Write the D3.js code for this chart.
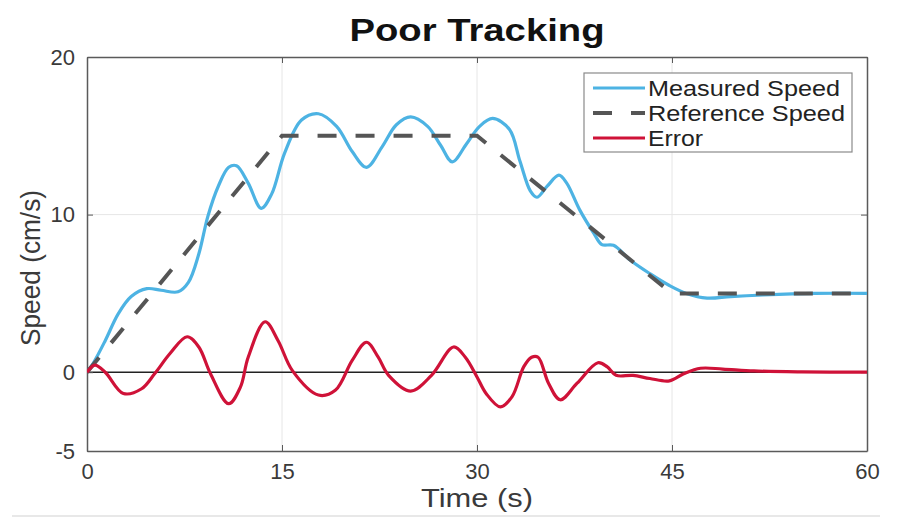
<!DOCTYPE html>
<html><head><meta charset="utf-8">
<script src="https://cdn.jsdelivr.net/npm/d3@7"></script>
<style>body{margin:0;background:#fff;}svg{display:block;font-family:"Liberation Sans",Arial,sans-serif;}</style>
</head><body>
<svg id="chart" width="898" height="518"></svg>
<script>
const titleText = "Poor Tracking";
const xLabel = "Time (s)";
const yLabel = "Speed (cm/s)";
const xTicks = [0, 15, 30, 45, 60];
const yTicks = [-5, 0, 10, 20];
const seriesNames = ["Measured Speed", "Reference Speed", "Error"];

const timeMeasured = [0,0.5,1.4,2.4,3.4,4.6,5.7,7.0,7.8,8.6,9.3,10.1,10.9,11.5,12.4,13.4,14.2,15.2,16.5,17.8,19.2,20.4,21.5,22.7,23.8,24.9,26.2,27.2,28.1,29.2,30.2,31.2,32.5,33.3,34.1,34.6,35.4,36.3,36.9,37.9,39.0,39.6,40.5,41.8,43.3,44.8,46.1,47.7,49.5,52,56,60];
const speedMeasured = [0,0.6,2.0,3.7,4.8,5.3,5.2,5.1,5.7,7.5,9.9,11.8,13.0,13.1,12.0,10.4,11.3,13.9,16.0,16.4,15.6,14.0,13.0,14.3,15.7,16.2,15.6,14.4,13.35,14.5,15.6,16.1,15.4,13.4,11.5,11.1,11.8,12.5,12.0,10.3,8.8,8.1,8.05,7.1,6.25,5.5,5.0,4.7,4.8,4.9,5.0,5.0];

const timeReference = [0, 15, 30, 45, 60];
const speedReference = [0, 15, 15, 5, 5];

const timeError = [0,0.6,1.4,2.8,4.2,5.2,6.4,7.7,8.6,9.5,10.9,11.8,12.4,13.7,14.7,15.8,17.8,19.1,20.4,21.5,22.4,23.2,24.9,26.5,28.2,29.1,30.0,30.7,31.8,32.7,33.6,34.2,34.7,35.5,36.4,37.7,39.3,40.0,40.7,42.0,43.3,44.8,45.9,47.2,48.9,51.3,55,60];
const errorValues = [0,0.45,0,-1.35,-1.05,-0.1,1.2,2.25,1.6,-0.1,-2.0,-0.95,0.95,3.2,2.0,0.1,-1.45,-1.15,0.75,1.9,0.95,-0.2,-1.2,-0.2,1.6,0.95,-0.3,-1.35,-2.2,-1.55,0.35,0.95,0.95,-0.7,-1.75,-0.7,0.6,0.35,-0.2,-0.2,-0.4,-0.55,-0.1,0.25,0.2,0.08,0.02,0];

const colors = {measured:"#4db3e3", reference:"#555555", error:"#cf1238"};

const svg = d3.select("#chart");
const L = 87, R = 867, T = 57, B = 451;
const x = d3.scaleLinear().domain([0, 60]).range([L, R]);
const y = d3.scaleLinear().domain([-5, 20]).range([B, T]);

// grid
svg.append("g").selectAll("line").data(xTicks.slice(1, -1)).join("line")
  .attr("x1", d => x(d)).attr("x2", d => x(d)).attr("y1", T).attr("y2", B)
  .attr("stroke", "#e6e6e6").attr("stroke-width", 1);
svg.append("g").selectAll("line").data([10]).join("line")
  .attr("y1", d => y(d)).attr("y2", d => y(d)).attr("x1", L).attr("x2", R)
  .attr("stroke", "#e6e6e6").attr("stroke-width", 1);

// zero line
svg.append("line").attr("x1", L).attr("x2", R).attr("y1", y(0)).attr("y2", y(0))
  .attr("stroke", "#222").attr("stroke-width", 1.5);

// axes
const fmt = d => String(d);
const xAxis = d3.axisBottom(x).tickValues(xTicks).tickFormat(fmt).tickSizeInner(-6).tickSizeOuter(0).tickPadding(12);
const yAxis = d3.axisLeft(y).tickValues(yTicks).tickFormat(fmt).tickSizeInner(-6).tickSizeOuter(0).tickPadding(12);
const gx = svg.append("g").attr("transform", `translate(0,${B})`).call(xAxis);
const gy = svg.append("g").attr("transform", `translate(${L},0)`).call(yAxis);
[gx, gy].forEach(g => {
  g.select(".domain").attr("stroke", "#5a5a5a").attr("stroke-width", 1.5);
  g.selectAll(".tick line").attr("stroke", "#5a5a5a");
  g.selectAll(".tick text").attr("fill", "#3a3a3a").style("font-size", "22px").style("font-family", "Liberation Sans, Arial, sans-serif");
});
// top & right box
const gxt = svg.append("g").attr("transform", `translate(0,${T})`).call(d3.axisTop(x).tickValues(xTicks).tickSizeInner(-6).tickSizeOuter(0).tickFormat(""));
const gyr = svg.append("g").attr("transform", `translate(${R},0)`).call(d3.axisRight(y).tickValues(yTicks).tickSizeInner(-6).tickSizeOuter(0).tickFormat(""));
[gxt, gyr].forEach(g => {
  g.select(".domain").attr("stroke", "#5a5a5a").attr("stroke-width", 1.5);
  g.selectAll(".tick line").attr("stroke", "#5a5a5a");
});

// lines
const clip = svg.append("clipPath").attr("id", "clip").append("rect")
  .attr("x", L).attr("y", T).attr("width", R - L).attr("height", B - T);
const plot = svg.append("g").attr("clip-path", "url(#clip)");

const smooth = d3.line().x(d => x(d[0])).y(d => y(d[1])).curve(d3.curveCatmullRom.alpha(0.5));
const straight = d3.line().x(d => x(d[0])).y(d => y(d[1]));

plot.append("path").datum(timeMeasured.map((t, i) => [t, speedMeasured[i]]))
  .attr("d", smooth).attr("fill", "none").attr("stroke", colors.measured)
  .attr("stroke-width", 3.2).attr("stroke-linejoin", "round");
plot.append("path").datum(timeReference.map((t, i) => [t, speedReference[i]]))
  .attr("d", straight).attr("fill", "none").attr("stroke", colors.reference)
  .attr("stroke-width", 4).attr("stroke-dasharray", "19,19");
plot.append("path").datum(timeError.map((t, i) => [t, errorValues[i]]))
  .attr("d", smooth).attr("fill", "none").attr("stroke", colors.error)
  .attr("stroke-width", 3.2).attr("stroke-linejoin", "round");

// title
svg.append("text").attr("x", 477).attr("y", 41).attr("text-anchor", "middle")
  .style("font-size", "32px").style("font-weight", "bold").attr("fill", "#111")
  .attr("textLength", 255).attr("lengthAdjust", "spacingAndGlyphs").text(titleText);

// axis labels
svg.append("text").attr("x", 477).attr("y", 507).attr("text-anchor", "middle")
  .style("font-size", "25px").attr("fill", "#3a3a3a")
  .attr("textLength", 112).attr("lengthAdjust", "spacingAndGlyphs").text(xLabel);
svg.append("text").attr("transform", `translate(40,${(T + B) / 2 + 14}) rotate(-90)`).attr("text-anchor", "middle")
  .style("font-size", "27px").attr("fill", "#3a3a3a")
  .attr("textLength", 156).attr("lengthAdjust", "spacingAndGlyphs").text(yLabel);

// legend
const lg = svg.append("g");
lg.append("rect").attr("x", 584).attr("y", 73).attr("width", 268).attr("height", 79)
  .attr("fill", "#fff").attr("stroke", "#8a8a8a").attr("stroke-width", 1.2);
const legendColors = [colors.measured, colors.reference, colors.error];
const legendDash = [null, "19,19", null];
const legendLen = [192, 197, 55];
seriesNames.forEach((name, i) => {
  const cy = 88 + i * 25;
  lg.append("line").attr("x1", 593).attr("x2", 645).attr("y1", cy).attr("y2", cy)
    .attr("stroke", legendColors[i]).attr("stroke-width", i === 1 ? 4 : 3.2)
    .attr("stroke-dasharray", legendDash[i]);
  lg.append("text").attr("x", 648).attr("y", cy + 8).style("font-size", "22px")
    .attr("fill", "#222").attr("textLength", legendLen[i]).attr("lengthAdjust", "spacingAndGlyphs").text(name);
});

// bottom separator line
svg.append("line").attr("x1", 12).attr("x2", 880).attr("y1", 516).attr("y2", 516)
  .attr("stroke", "#e0e0e0").attr("stroke-width", 1.5);
</script>
</body></html>
